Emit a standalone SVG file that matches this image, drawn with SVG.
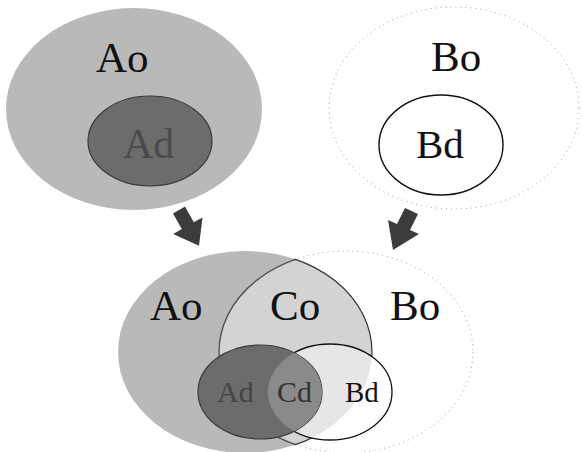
<svg xmlns="http://www.w3.org/2000/svg" width="582" height="452" viewBox="0 0 582 452">
<style>
text{font-family:"Liberation Serif","Times New Roman",serif;}
.big{font-size:43px;fill:#111;}
.mid{font-size:41px;fill:#111;}
.sm{font-size:30px;fill:#111;}
.outer{fill:#fff;stroke:#9a9a9a;stroke-width:1;stroke-dasharray:1 4;}
.ao{fill:#b9b9b9;}
.ad{fill:#6c6c6c;stroke:#3a3a3a;stroke-width:1.2;}
.bd{fill:#fff;stroke:#111;stroke-width:1.4;}
.arrow{fill:#3c3c3c;}
</style>
<defs>
<clipPath id="clipAo"><ellipse cx="245" cy="352" rx="127" ry="101"/></clipPath>
<clipPath id="clipBo"><ellipse cx="346" cy="352" rx="128" ry="102"/></clipPath>
<clipPath id="clipBd"><ellipse cx="330" cy="392" rx="62" ry="48"/></clipPath>
</defs>

<g id="top-A">
<ellipse class="ao" cx="134" cy="109" rx="128" ry="101"/>
<text class="big" x="96" y="72">Ao</text>
</g>
<g id="top-Ad">
<ellipse class="ad" cx="150" cy="141" rx="62" ry="45"/>
<text class="big" x="123" y="158" style="fill:#4a4a4a;font-size:42px">Ad</text>
</g>

<g id="top-B">
<ellipse class="outer" cx="454" cy="108" rx="125" ry="101"/>
<text class="big" x="431" y="71">Bo</text>
</g>
<g id="top-Bd">
<ellipse class="bd" cx="441" cy="145" rx="62" ry="50"/>
<text class="mid" x="416" y="158">Bd</text>
</g>

<g id="connectors">
<polygon class="arrow" points="173,213.4 185,206.6 193.8,222.3 202.5,217.4 199,245.7 173.1,234 181.8,229.1"/>
<polygon class="arrow" points="405,208 418,214 410,230 419,234 393,250 388,220 397,224"/>
</g>

<g id="bottom-Bo">
<ellipse class="outer" cx="346" cy="352" rx="127" ry="101"/>
</g>
<g id="bottom-Ao">
<ellipse class="ao" cx="245" cy="352" rx="127" ry="101"/>
</g>
<g id="bottom-Co">
<ellipse cx="346" cy="352" rx="127" ry="101" clip-path="url(#clipAo)" style="fill:#d3d3d3;stroke:#555;stroke-width:1.4"/>
<ellipse cx="245" cy="352" rx="127" ry="101" clip-path="url(#clipBo)" style="fill:none;stroke:#333;stroke-width:1.2"/>
</g>
<g id="bottom-Bd">
<ellipse cx="330" cy="392" rx="62" ry="48" style="fill:#fff"/>
<ellipse cx="330" cy="392" rx="62" ry="48" clip-path="url(#clipAo)" style="fill:#e6e6e6"/>
<ellipse cx="330" cy="392" rx="62" ry="48" style="fill:none;stroke:#111;stroke-width:1.3"/>
</g>
<g id="bottom-Ad">
<ellipse class="ad" cx="260" cy="392" rx="62" ry="47"/>
</g>
<g id="bottom-Cd">
<ellipse cx="260" cy="392" rx="62" ry="47" clip-path="url(#clipBd)" style="fill:#8a8a8a"/>
</g>
<g id="bottom-labels">
<text class="big" x="150" y="320">Ao</text>
<text class="big" x="270" y="320">Co</text>
<text class="big" x="390" y="320">Bo</text>
<text class="sm" x="217" y="402" style="fill:#444">Ad</text>
<text class="sm" x="277" y="402" style="fill:#333">Cd</text>
<text class="sm" x="345" y="402" style="font-size:29px">Bd</text>
</g>
</svg>
